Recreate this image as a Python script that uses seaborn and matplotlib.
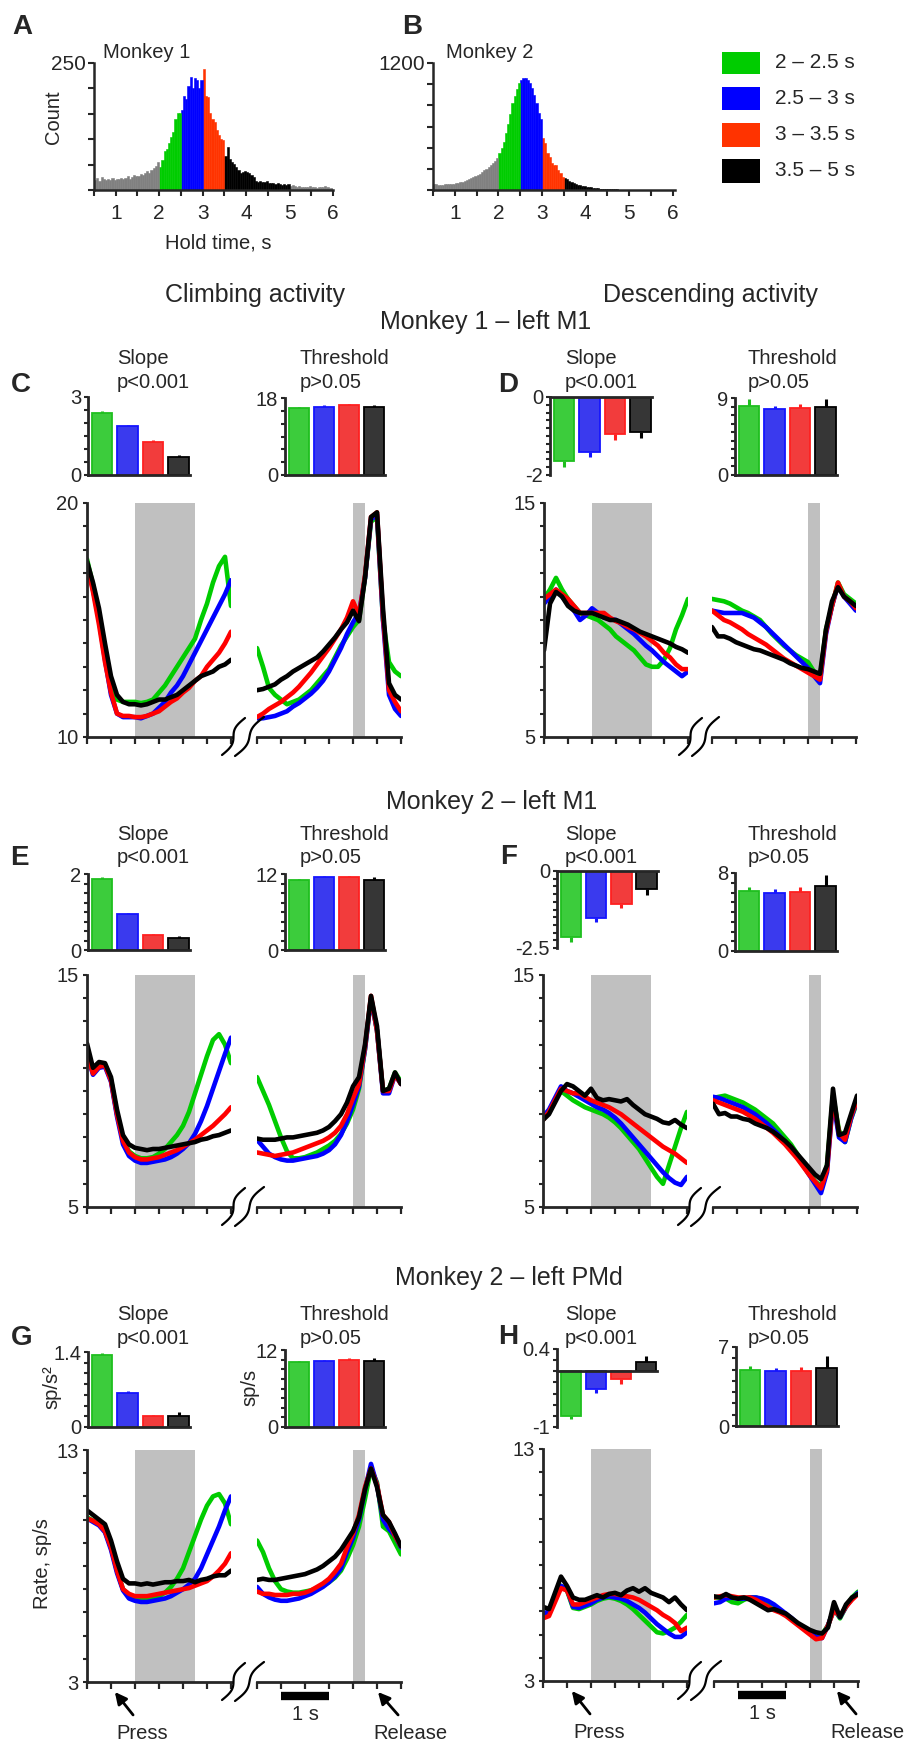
import numpy as np
import pandas as pd
import matplotlib
matplotlib.use("Agg")
import matplotlib.pyplot as plt
import seaborn as sns
from matplotlib.ticker import MultipleLocator
from matplotlib.patches import Rectangle

sns.set_style("ticks")
plt.rcParams['font.family'] = ['Liberation Sans', 'DejaVu Sans']

# ---------------- data ----------------
COND = ["2 – 2.5 s", "2.5 – 3 s", "3 – 3.5 s", "3.5 – 5 s"]
LINE_COLORS = ["#00cc00", "#0000ff", "#ff0000", "#000000"]
HIST_COLORS = ["#00cc00", "#0000ff", "#ff3300", "#000000"]
BAR_FILL = ["#3ccc3c", "#3a3aee", "#f23c3c", "#363636"]
BAR_EDGE = ["#1fbf1f", "#1515ff", "#ff2020", "#000000"]

HOLD_TIMES = ["lo"] * 30 + [COND[0]] * 10 + [COND[1]] * 10 + [COND[2]] * 10 + [COND[3]] * 30 + ["hi"] * 20

HIST_M1 = [20, 24, 18, 26, 22, 20, 21, 19, 23, 20, 21, 22, 24, 21, 23, 27, 22, 25, 29, 27,
           27, 31, 29, 34, 37, 34, 40, 44, 48, 55,
           46, 60, 76, 80, 92, 104, 115, 140, 151, 152,
           158, 186, 180, 204, 222, 200, 220, 217, 200, 217,
           238, 186, 184, 152, 140, 134, 118, 108, 100, 99,
           66, 85, 62, 56, 52, 46, 40, 33, 35, 38, 36, 34, 30, 26, 18, 16, 17, 16, 15, 17,
           14, 13, 14, 12, 13, 11, 10, 12, 9, 11,
           8, 10, 7, 6, 8, 5, 6, 5, 6, 7, 5, 6, 4, 5, 6, 5, 7, 5, 4, 3]
HIST_M2 = [60, 55, 50, 50, 50, 55, 55, 55, 58, 60, 65, 70, 75, 80, 88, 95, 100, 110, 120, 130,
           140, 155, 170, 185, 200, 215, 235, 255, 275, 300,
           347, 400, 457, 540, 620, 720, 820, 890, 950, 1010,
           1040, 1060, 1055, 1040, 1010, 960, 900, 820, 730, 670,
           490, 440, 350, 315, 255, 237, 235, 190, 158, 126,
           110, 100, 85, 75, 65, 58, 50, 45, 40, 35, 30, 27, 24, 20, 18, 15, 13, 11, 10, 9,
           8, 7, 6, 5, 5, 4, 4, 3, 3, 2,
           2, 2, 2, 2, 1, 1, 1, 1, 1, 1, 1, 1, 1, 1, 1, 1, 1, 1, 1, 1]

# bar summaries: values and SEM
C_SLOPE = [2.39, 1.88, 1.28, 0.70];   C_SLOPE_ERR = [0.07, 0.06, 0.06, 0.06]
C_THR = [15.6, 16.0, 16.3, 15.8];     C_THR_ERR = [0.3, 0.3, 0.3, 0.45]
D_SLOPE = [-1.64, -1.40, -0.94, -0.89]; D_SLOPE_ERR = [0.16, 0.15, 0.15, 0.15]
D_THR = [8.1, 7.7, 7.8, 7.95];        D_THR_ERR = [0.8, 0.4, 0.5, 0.9]
E_SLOPE = [1.87, 0.94, 0.40, 0.32];   E_SLOPE_ERR = [0.04, 0.03, 0.03, 0.04]
E_THR = [11.05, 11.47, 11.5, 11.05];  E_THR_ERR = [0.15, 0.15, 0.2, 0.4]
F_SLOPE = [-2.15, -1.52, -1.06, -0.60]; F_SLOPE_ERR = [0.16, 0.13, 0.13, 0.17]
F_THR = [6.14, 5.97, 6.07, 6.62];     F_THR_ERR = [0.4, 0.4, 0.5, 1.2]
G_SLOPE = [1.34, 0.64, 0.20, 0.21];   G_SLOPE_ERR = [0.04, 0.03, 0.02, 0.07]
G_THR = [10.1, 10.3, 10.5, 10.3];     G_THR_ERR = [0.2, 0.2, 0.2, 0.5]
H_SLOPE = [-0.80, -0.32, -0.14, 0.16]; H_SLOPE_ERR = [0.06, 0.07, 0.08, 0.12]
H_THR = [4.98, 4.89, 4.89, 5.13];     H_THR_ERR = [0.3, 0.24, 0.3, 1.05]

# time axes (s): aligned to press (left) and to release (right)
T_PRESS = np.linspace(-0.5, 2.5, 25)
T_RELEASE = np.linspace(-2.5, 0.5, 25)
WIN_PRESS = (0.5, 1.75)
WIN_RELEASE = (-0.5, -0.25)

# firing rates (sp/s); order green, blue, red, black
C_PRESS = [
    [17.6, 16.5, 15.2, 13.5, 12.1, 11.6, 11.5, 11.5, 11.5, 11.45, 11.5, 11.6, 11.9, 12.2, 12.6, 13.0, 13.4, 13.8, 14.2, 15.0, 15.7, 16.6, 17.3, 17.7, 15.6],
    [17.4, 16.3, 15.0, 13.3, 11.8, 11.0, 10.85, 10.85, 10.85, 10.8, 10.9, 11.0, 11.25, 11.5, 11.9, 12.2, 12.6, 13.1, 13.6, 14.1, 14.6, 15.1, 15.6, 16.1, 16.7],
    [17.4, 16.2, 14.8, 13.2, 11.9, 11.0, 10.9, 10.9, 10.85, 10.85, 10.9, 11.0, 11.1, 11.3, 11.5, 11.65, 11.9, 12.1, 12.4, 12.6, 13.0, 13.3, 13.6, 14.0, 14.5],
    [17.5, 16.6, 15.5, 14.0, 12.6, 11.8, 11.5, 11.4, 11.4, 11.35, 11.4, 11.5, 11.6, 11.6, 11.7, 11.8, 12.0, 12.2, 12.4, 12.6, 12.7, 12.8, 13.0, 13.1, 13.3],
]
C_RELEASE = [
    [13.8, 13.0, 12.1, 11.8, 11.6, 11.4, 11.5, 11.6, 11.8, 12.0, 12.3, 12.6, 12.9, 13.4, 13.9, 14.3, 14.7, 15.0, 16.8, 19.2, 19.4, 15.0, 13.2, 12.8, 12.6],
    [10.8, 10.8, 10.85, 10.9, 11.0, 11.1, 11.3, 11.45, 11.65, 11.85, 12.1, 12.4, 12.8, 13.3, 13.8, 14.4, 14.9, 15.3, 16.8, 19.3, 19.5, 15.0, 11.8, 11.2, 10.9],
    [10.85, 11.0, 11.2, 11.35, 11.5, 11.7, 11.9, 12.15, 12.45, 12.75, 13.1, 13.45, 13.8, 14.2, 14.6, 15.1, 15.8, 15.2, 16.9, 19.4, 19.6, 15.2, 12.0, 11.5, 11.1],
    [12.0, 12.05, 12.15, 12.25, 12.45, 12.6, 12.8, 12.95, 13.1, 13.25, 13.4, 13.65, 13.95, 14.25, 14.6, 14.9, 15.4, 14.95, 16.8, 19.4, 19.6, 15.5, 12.3, 11.8, 11.6],
]
D_PRESS = [
    [10.9, 11.3, 11.8, 11.3, 10.9, 10.6, 10.3, 10.2, 10.1, 10.0, 9.8, 9.6, 9.3, 9.1, 8.9, 8.7, 8.4, 8.1, 8.0, 8.0, 8.3, 8.8, 9.6, 10.2, 10.9],
    [10.7, 11.0, 11.3, 11.0, 10.7, 10.4, 10.0, 10.2, 10.5, 10.3, 10.1, 10.05, 10.0, 9.8, 9.6, 9.4, 9.15, 8.9, 8.7, 8.45, 8.2, 8.0, 7.8, 7.6, 7.8],
    [10.9, 11.1, 11.3, 11.1, 10.9, 10.6, 10.3, 10.3, 10.3, 10.3, 10.3, 10.1, 9.95, 9.85, 9.7, 9.6, 9.45, 9.3, 9.1, 8.9, 8.6, 8.4, 8.1, 7.9, 7.9],
    [8.7, 10.7, 11.2, 11.0, 10.6, 10.4, 10.3, 10.3, 10.3, 10.2, 10.1, 10.0, 10.0, 9.9, 9.8, 9.65, 9.5, 9.4, 9.3, 9.2, 9.1, 9.0, 8.85, 8.75, 8.6],
]
D_RELEASE = [
    [10.9, 10.85, 10.8, 10.7, 10.55, 10.4, 10.3, 10.15, 10.0, 9.7, 9.4, 9.15, 8.9, 8.7, 8.5, 8.35, 8.2, 7.8, 7.5, 9.6, 10.6, 11.6, 11.1, 10.9, 10.7],
    [10.4, 10.35, 10.3, 10.3, 10.3, 10.3, 10.2, 10.1, 9.9, 9.7, 9.45, 9.2, 8.95, 8.7, 8.45, 8.2, 7.95, 7.6, 7.3, 9.4, 10.6, 11.5, 11.0, 10.7, 10.4],
    [10.4, 10.2, 10.0, 9.9, 9.75, 9.6, 9.4, 9.25, 9.1, 8.95, 8.75, 8.55, 8.35, 8.2, 8.05, 7.9, 7.75, 7.6, 7.45, 9.5, 10.6, 11.6, 11.0, 10.8, 10.5],
    [9.7, 9.3, 9.3, 9.2, 9.05, 8.95, 8.85, 8.75, 8.7, 8.6, 8.5, 8.4, 8.3, 8.15, 8.05, 7.95, 7.9, 7.8, 7.7, 9.6, 10.8, 11.4, 11.0, 10.8, 10.6],
]
E_PRESS = [
    [11.7, 10.8, 11.1, 11.15, 10.5, 9.0, 7.9, 7.4, 7.2, 7.1, 7.1, 7.15, 7.3, 7.5, 7.8, 8.1, 8.5, 9.1, 9.9, 10.7, 11.5, 12.2, 12.45, 12.0, 11.2],
    [11.6, 10.7, 11.0, 11.05, 10.4, 8.9, 7.7, 7.2, 7.0, 6.9, 6.9, 6.95, 7.0, 7.05, 7.15, 7.3, 7.5, 7.75, 8.15, 8.7, 9.35, 10.1, 10.85, 11.6, 12.3],
    [11.6, 10.75, 11.05, 11.1, 10.45, 9.0, 7.85, 7.35, 7.15, 7.05, 7.05, 7.1, 7.15, 7.25, 7.35, 7.45, 7.6, 7.75, 7.9, 8.1, 8.3, 8.5, 8.75, 9.0, 9.3],
    [12.05, 11.0, 11.25, 11.2, 10.6, 9.2, 8.1, 7.7, 7.55, 7.5, 7.45, 7.5, 7.5, 7.55, 7.6, 7.65, 7.7, 7.75, 7.8, 7.9, 7.95, 8.05, 8.1, 8.2, 8.3],
]
E_RELEASE = [
    [10.6, 10.0, 9.4, 8.7, 8.0, 7.4, 7.1, 7.1, 7.15, 7.25, 7.35, 7.5, 7.65, 7.85, 8.15, 8.6, 9.2, 10.1, 11.8, 14.0, 12.6, 10.0, 10.1, 10.8, 10.4],
    [7.9, 7.6, 7.3, 7.15, 7.05, 7.0, 7.0, 7.05, 7.1, 7.15, 7.2, 7.3, 7.45, 7.7, 8.1, 8.7, 9.4, 10.2, 11.8, 14.0, 12.6, 9.9, 9.9, 10.7, 10.3],
    [7.35, 7.3, 7.25, 7.2, 7.25, 7.3, 7.35, 7.45, 7.55, 7.65, 7.75, 7.85, 8.0, 8.2, 8.5, 9.0, 9.7, 10.3, 11.9, 14.1, 12.6, 10.0, 10.0, 10.7, 10.3],
    [7.95, 7.9, 7.9, 7.9, 7.95, 8.0, 8.0, 8.05, 8.1, 8.15, 8.2, 8.3, 8.45, 8.7, 9.0, 9.5, 10.2, 10.6, 12.0, 14.1, 12.8, 10.0, 10.1, 10.8, 10.3],
]
F_PRESS = [
    [8.9, 9.1, 9.6, 10.0, 9.8, 9.6, 9.45, 9.3, 9.2, 9.1, 9.0, 8.85, 8.65, 8.4, 8.1, 7.8, 7.5, 7.1, 6.7, 6.3, 6.0, 6.8, 7.6, 8.4, 9.1],
    [8.9, 9.2, 9.7, 10.2, 10.0, 9.9, 9.75, 9.6, 9.45, 9.3, 9.2, 9.05, 8.85, 8.6, 8.3, 8.0, 7.7, 7.4, 7.1, 6.8, 6.5, 6.25, 6.05, 5.95, 6.3],
    [8.75, 9.1, 9.6, 10.1, 10.0, 9.9, 9.9, 9.75, 9.6, 9.5, 9.4, 9.3, 9.15, 9.0, 8.8, 8.6, 8.4, 8.2, 8.0, 7.8, 7.6, 7.45, 7.3, 7.1, 6.9],
    [8.75, 9.0, 9.5, 10.0, 10.3, 10.2, 10.0, 9.8, 10.1, 9.7, 9.6, 9.65, 9.6, 9.55, 9.65, 9.4, 9.2, 9.0, 8.9, 8.8, 8.65, 8.6, 8.75, 8.55, 8.4],
]
F_RELEASE = [
    [9.7, 9.75, 9.8, 9.7, 9.6, 9.5, 9.35, 9.2, 9.0, 8.8, 8.6, 8.3, 8.0, 7.7, 7.3, 6.9, 6.5, 6.1, 5.9, 6.8, 9.8, 8.3, 7.8, 8.8, 9.5],
    [9.75, 9.7, 9.6, 9.5, 9.4, 9.3, 9.15, 9.0, 8.8, 8.6, 8.35, 8.1, 7.8, 7.5, 7.15, 6.8, 6.4, 6.0, 5.6, 6.5, 9.6, 8.0, 7.8, 8.8, 9.6],
    [9.6, 9.5, 9.4, 9.3, 9.2, 9.1, 8.95, 8.8, 8.6, 8.4, 8.2, 7.95, 7.7, 7.4, 7.1, 6.75, 6.4, 6.1, 5.8, 6.6, 9.7, 8.2, 7.9, 8.9, 9.6],
    [9.45, 9.0, 9.05, 8.9, 8.9, 8.8, 8.75, 8.6, 8.5, 8.4, 8.25, 8.05, 7.85, 7.6, 7.3, 7.0, 6.7, 6.4, 6.2, 6.8, 10.1, 8.1, 8.2, 9.0, 9.8],
]
G_PRESS = [
    [10.1, 9.95, 9.8, 9.5, 8.8, 7.8, 7.0, 6.75, 6.65, 6.6, 6.6, 6.6, 6.7, 6.85, 7.1, 7.45, 7.9, 8.6, 9.3, 10.0, 10.6, 11.0, 11.1, 10.7, 9.8],
    [10.05, 9.9, 9.75, 9.45, 8.7, 7.7, 6.95, 6.6, 6.5, 6.45, 6.45, 6.5, 6.55, 6.6, 6.7, 6.85, 7.0, 7.2, 7.45, 7.9, 8.5, 9.1, 9.7, 10.4, 11.0],
    [10.05, 9.95, 9.8, 9.5, 8.8, 7.8, 7.0, 6.8, 6.7, 6.7, 6.7, 6.75, 6.8, 6.85, 6.9, 6.95, 7.0, 7.05, 7.15, 7.25, 7.35, 7.55, 7.8, 8.1, 8.55],
    [10.4, 10.2, 10.0, 9.8, 9.1, 8.2, 7.45, 7.25, 7.25, 7.2, 7.25, 7.2, 7.25, 7.3, 7.3, 7.35, 7.35, 7.4, 7.3, 7.4, 7.45, 7.55, 7.6, 7.6, 7.8],
]
G_RELEASE = [
    [9.1, 8.6, 7.9, 7.35, 7.0, 6.9, 6.85, 6.85, 6.9, 6.95, 7.05, 7.15, 7.3, 7.5, 7.8, 8.3, 8.9, 9.7, 10.9, 12.2, 11.6, 9.7, 9.5, 9.0, 8.5],
    [7.1, 6.8, 6.65, 6.55, 6.5, 6.5, 6.55, 6.6, 6.7, 6.8, 6.95, 7.1, 7.3, 7.55, 7.9, 8.6, 9.2, 10.0, 11.3, 12.4, 11.5, 10.0, 9.6, 9.3, 8.8],
    [6.9, 6.8, 6.8, 6.75, 6.75, 6.75, 6.8, 6.8, 6.85, 6.95, 7.1, 7.25, 7.45, 7.75, 8.1, 8.8, 9.4, 10.2, 11.4, 12.2, 11.5, 10.2, 9.9, 9.3, 8.85],
    [7.4, 7.45, 7.4, 7.4, 7.45, 7.5, 7.55, 7.6, 7.65, 7.75, 7.85, 8.0, 8.2, 8.4, 8.7, 9.1, 9.5, 10.1, 11.3, 12.2, 11.4, 10.2, 9.9, 9.4, 8.85],
]
H_PRESS = [
    [5.9, 5.95, 6.5, 7.1, 6.9, 6.15, 6.1, 6.2, 6.3, 6.45, 6.55, 6.6, 6.55, 6.45, 6.3, 6.1, 5.85, 5.6, 5.35, 5.1, 5.05, 5.15, 5.3, 5.55, 5.85],
    [5.9, 6.0, 6.5, 7.1, 6.95, 6.2, 6.15, 6.25, 6.35, 6.5, 6.6, 6.65, 6.6, 6.55, 6.45, 6.3, 6.15, 5.95, 5.7, 5.45, 5.25, 5.05, 4.9, 4.9, 5.1],
    [5.7, 5.8, 6.4, 7.0, 6.9, 6.3, 6.3, 6.4, 6.5, 6.6, 6.7, 6.75, 6.75, 6.7, 6.65, 6.6, 6.5, 6.35, 6.2, 6.05, 5.85, 5.7, 5.5, 5.15, 5.3],
    [6.2, 6.1, 6.8, 7.5, 7.1, 6.6, 6.5, 6.5, 6.6, 6.7, 6.6, 6.75, 6.8, 6.7, 6.9, 7.0, 6.85, 7.0, 6.8, 6.7, 6.6, 6.4, 6.6, 6.3, 6.05],
]
H_RELEASE = [
    [6.6, 6.6, 6.55, 6.4, 6.35, 6.5, 6.6, 6.6, 6.5, 6.35, 6.2, 6.05, 5.85, 5.65, 5.45, 5.25, 5.05, 4.9, 5.0, 5.4, 6.1, 5.7, 6.2, 6.6, 6.85],
    [6.35, 6.4, 6.55, 6.6, 6.55, 6.55, 6.6, 6.6, 6.55, 6.45, 6.3, 6.1, 5.9, 5.7, 5.45, 5.25, 5.05, 4.9, 4.85, 5.4, 6.1, 5.75, 6.2, 6.55, 6.8],
    [6.6, 6.65, 6.7, 6.65, 6.6, 6.6, 6.6, 6.5, 6.35, 6.2, 6.05, 5.95, 5.8, 5.6, 5.4, 5.2, 5.0, 4.8, 4.85, 5.4, 6.05, 5.8, 6.2, 6.5, 6.75],
    [6.65, 6.6, 6.75, 6.6, 6.55, 6.6, 6.5, 6.35, 6.2, 6.05, 6.1, 6.0, 5.9, 5.7, 5.5, 5.35, 5.2, 5.1, 5.05, 5.3, 6.4, 5.75, 6.3, 6.6, 6.75],
]

# ---------------- layout helpers ----------------
W, H = 906, 1745
fig = plt.figure(figsize=(W / 100, H / 100), dpi=100)
FS = 14.5


def ax_px(x0, y0, x1, y1):
    return fig.add_axes([x0 / W, 1 - y1 / H, (x1 - x0) / W, (y1 - y0) / H])


def txt(x, y, s, **kw):
    kw.setdefault('fontsize', FS)
    kw.setdefault('ha', 'center')
    kw.setdefault('va', 'center')
    fig.text(x / W, 1 - y / H, s, **kw)


# ---------------- histograms ----------------
centers = np.round(np.arange(0.525, 6.0, 0.05), 3)
hpal = {"lo": "#808080", "hi": "#808080"}
hpal.update({c: col for c, col in zip(COND, HIST_COLORS)})


def hist_panel(x0, x1, counts, top, step, xmax, name, lx):
    ax = ax_px(x0, 63, x1, 190)
    df = pd.DataFrame({"t": centers, "n": np.asarray(counts, dtype=float), "grp": HOLD_TIMES})
    sns.histplot(data=df, x="t", weights="n", hue="grp", palette=hpal,
                 hue_order=["lo"] + COND + ["hi"], binwidth=0.05, binrange=(0.5, 6.0),
                 element="bars", fill=True, alpha=1, linewidth=0, legend=False, ax=ax)
    for p in ax.patches:
        p.set_edgecolor(p.get_facecolor())
        p.set_linewidth(0.4)
    ax.set_xlim(0.5, xmax)
    ax.set_ylim(0, top)
    sns.despine(ax=ax)
    for s in ['left', 'bottom']:
        ax.spines[s].set_linewidth(1.8)
    ax.set_xticks([1, 2, 3, 4, 5, 6])
    ax.set_xticklabels(['1', '2', '3', '4', '5', '6'], fontsize=15)
    ax.xaxis.set_minor_locator(MultipleLocator(0.5))
    yt = list(np.arange(0, top + 1, step))
    ax.set_yticks(yt)
    ax.set_yticklabels([''] * (len(yt) - 1) + [str(top)], fontsize=15)
    ax.tick_params(axis='both', which='both', direction='out', length=4, width=1.5, pad=6)
    ax.tick_params(axis='y', pad=2)
    ax.set_xlabel('')
    ax.set_ylabel('')
    txt(lx, 53, name, ha='left')
    return ax


hist_panel(94, 333, HIST_M1, 250, 50, 6.0, "Monkey 1", 103)
hist_panel(433, 675, HIST_M2, 1200, 200, 6.05, "Monkey 2", 446)
txt(218, 243, "Hold time, s")
txt(53, 117, "Count", rotation=90)

# ---------------- bar panels ----------------
def bar_panel(x0, y0, x1, y1, vals, errs, lo, hi, labels, minor):
    ax = ax_px(x0, y0, x1, y1)
    pal = dict(zip(COND, BAR_FILL))
    sns.barplot(x=COND, y=vals, hue=COND, order=COND, hue_order=COND, palette=pal,
                width=0.82, legend=False, saturation=1, ax=ax, zorder=2)
    for p, ec in zip(ax.patches, BAR_EDGE):
        p.set_edgecolor(ec)
        p.set_linewidth(1.3)
    v = np.array(vals)
    e = np.array(errs)
    ax.vlines(np.arange(4), v, v + np.sign(v) * e, colors=BAR_EDGE, lw=2.2, zorder=1)
    ax.set_xlim(-0.55, 3.45)
    ax.set_ylim(lo, hi)
    sns.despine(ax=ax)
    ax.spines['bottom'].set_position(('data', 0))
    for s in ['left', 'bottom']:
        ax.spines[s].set_linewidth(2)
    ax.set_xticks([])
    ax.set_yticks([lo, hi])
    ax.set_yticklabels(labels, fontsize=FS)
    ax.yaxis.set_minor_locator(MultipleLocator(minor))
    ax.tick_params(axis='y', which='both', direction='out', length=3, width=1.5, pad=2)
    ax.set_xlabel('')
    ax.set_ylabel('')
    return ax


def titles(xs, xt, y):
    txt(xs, y, "Slope", ha='left')
    txt(xs, y + 24, "p<0.001", ha='left')
    txt(xt, y, "Threshold", ha='left')
    txt(xt, y + 24, "p>0.05", ha='left')


# row C/D
bar_panel(88, 397, 190, 475, C_SLOPE, C_SLOPE_ERR, 0, 3, ['0', '3'], 0.5)
bar_panel(285, 398, 385, 475, C_THR, C_THR_ERR, 0, 18, ['0', '18'], 3)
bar_panel(550, 397, 652, 475, D_SLOPE, D_SLOPE_ERR, -2, 0, ['-2', '0'], 0.2)
bar_panel(735, 398, 837, 475, D_THR, D_THR_ERR, 0, 9, ['0', '9'], 1)
titles(117, 300, 359)
titles(565, 748, 359)
# row E/F
bar_panel(88, 874, 190, 950, E_SLOPE, E_SLOPE_ERR, 0, 2, ['0', '2'], 0.25)
bar_panel(285, 874, 385, 950, E_THR, E_THR_ERR, 0, 12, ['0', '12'], 1.5)
bar_panel(557, 871, 658, 948, F_SLOPE, F_SLOPE_ERR, -2.5, 0, ['-2.5', '0'], 0.25)
bar_panel(735, 873, 837, 951, F_THR, F_THR_ERR, 0, 8, ['0', '8'], 1)
titles(117, 300, 834)
titles(565, 748, 834)
# row G/H
bar_panel(88, 1352, 190, 1427, G_SLOPE, G_SLOPE_ERR, 0, 1.4, ['0', '1.4'], 0.2)
bar_panel(285, 1350, 385, 1427, G_THR, G_THR_ERR, 0, 12, ['0', '12'], 1.5)
bar_panel(557, 1349, 657, 1427, H_SLOPE, H_SLOPE_ERR, -1, 0.4, ['-1', '0.4'], 0.2)
bar_panel(736, 1347, 838, 1426, H_THR, H_THR_ERR, 0, 7, ['0', '7'], 1)
titles(117, 300, 1315)
titles(565, 748, 1315)

# ---------------- line panels ----------------
ov = fig.add_axes([0, 0, 1, 1], zorder=10)
ov.set_xlim(0, W)
ov.set_ylim(H, 0)
ov.axis('off')


def break_mark(xl, xr, yb):
    s = np.linspace(0, 1, 50)
    for xa, ya, xb, yb2 in [(xl - 9, yb + 18, xl + 14, yb - 19), (xl + 4, yb + 19, xr + 7, yb - 20)]:
        x = xa + (xb - xa) * s + 3.5 * np.sin(2 * np.pi * s)
        y = ya + (yb2 - ya) * s
        ov.plot(x, y, color='k', lw=1.6, solid_capstyle='round')


def line_panel(xl, xr, y0, y1, lo, hi, press, release):
    axL = ax_px(xl, y0, xl + 144, y1)
    axR = ax_px(xr, y0, xr + 144, y1)
    axL.axvspan(*WIN_PRESS, color='#c0c0c0', lw=0, zorder=0)
    axR.axvspan(*WIN_RELEASE, color='#c0c0c0', lw=0, zorder=0)
    for vals, col in zip(press, LINE_COLORS):
        sns.lineplot(x=T_PRESS, y=vals, color=col, lw=3.3, ax=axL)
    for vals, col in zip(release, LINE_COLORS):
        sns.lineplot(x=T_RELEASE, y=vals, color=col, lw=3.3, ax=axR)
    axL.set_xlim(-0.5, 2.5)
    axR.set_xlim(-2.5, 0.5)
    for ax in (axL, axR):
        ax.set_ylim(lo, hi)
        ax.patch.set_alpha(0)
        for s in ['top', 'right']:
            ax.spines[s].set_visible(False)
        ax.spines['bottom'].set_linewidth(2)
        ax.spines['left'].set_linewidth(2)
        ax.set_xlabel('')
        ax.set_ylabel('')
        ax.xaxis.set_major_locator(MultipleLocator(0.5))
        ax.tick_params(axis='x', direction='out', length=5, width=1.6, labelbottom=False)
    axL.set_yticks([lo, hi])
    axL.set_yticklabels([str(lo), str(hi)], fontsize=FS)
    axL.yaxis.set_minor_locator(MultipleLocator(1))
    axL.tick_params(axis='y', which='both', direction='out', length=3, width=1.5, pad=3)
    axR.spines['left'].set_visible(False)
    axR.tick_params(axis='y', which='both', left=False, labelleft=False)
    break_mark(xl + 144, xr, y1)
    return axL, axR


line_panel(87, 257, 503, 737, 10, 20, C_PRESS, C_RELEASE)
line_panel(544, 712, 503, 737, 5, 15, D_PRESS, D_RELEASE)
line_panel(87, 257, 975, 1207, 5, 15, E_PRESS, E_RELEASE)
line_panel(543, 713, 975, 1207, 5, 15, F_PRESS, F_RELEASE)
gL, gR = line_panel(87, 257, 1450, 1682, 3, 13, G_PRESS, G_RELEASE)
hL, hR = line_panel(543, 714, 1449, 1681, 3, 13, H_PRESS, H_RELEASE)


def event_marks(axL, axR, press_tip, press_tail, press_txt, rel_tip, rel_tail, rel_txt):
    ap = dict(arrowstyle='-|>,head_width=0.35,head_length=0.7', color='k', lw=2,
              shrinkA=0, shrinkB=0)
    for ax, tip, tail, tx, label in [(axL, press_tip, press_tail, press_txt, "Press"),
                                     (axR, rel_tip, rel_tail, rel_txt, "Release")]:
        tr = ax.get_xaxis_transform()
        ax.annotate('', xy=(tip, -0.043), xytext=(tail, -0.142), xycoords=tr,
                    textcoords=tr, arrowprops=ap, annotation_clip=False)
        ax.text(tx, -0.22, label, transform=tr, ha='center', va='center', fontsize=FS,
                clip_on=False)
    tr = axR.get_xaxis_transform()
    axR.plot([-2.0, -1.0], [-0.06, -0.06], transform=tr, color='k', lw=6,
             solid_capstyle='butt', clip_on=False)
    axR.text(-1.5, -0.142, "1 s", transform=tr, ha='center', va='center', fontsize=FS,
             clip_on=False)


event_marks(gL, gR, 0.08, 0.46, 0.65, 0.02, 0.44, 0.69)
event_marks(hL, hR, 0.10, 0.48, 0.67, 0.06, 0.46, 0.69)

# ---------------- legend ----------------
for (yt, yb), col, lab in zip([(52, 74), (87, 110), (123, 147), (159, 183)], HIST_COLORS, COND):
    ov.add_patch(Rectangle((722, yt), 38, yb - yt, facecolor=col, edgecolor='none'))
    txt(775, (yt + yb) / 2, lab, ha='left', fontsize=15)

# ---------------- texts ----------------
txt(255, 295, "Climbing activity", fontsize=18)
txt(710, 295, "Descending activity", fontsize=18)
txt(486, 322, "Monkey 1 – left M1", fontsize=18)
txt(492, 802, "Monkey 2 – left M1", fontsize=18)
txt(509, 1278, "Monkey 2 – left PMd", fontsize=18)

for lab, x, y in [("A", 22, 27), ("B", 412, 27), ("C", 21, 385), ("D", 508, 385),
                  ("E", 19, 858), ("F", 509, 857), ("G", 22, 1338), ("H", 508, 1337)]:
    txt(x, y, lab, fontsize=20, fontweight='bold')

txt(52, 1387, "sp/s²", rotation=90)
txt(250, 1387, "sp/s", rotation=90)
txt(43, 1564, "Rate, sp/s", rotation=90)

fig.savefig("out.png", dpi=100)
